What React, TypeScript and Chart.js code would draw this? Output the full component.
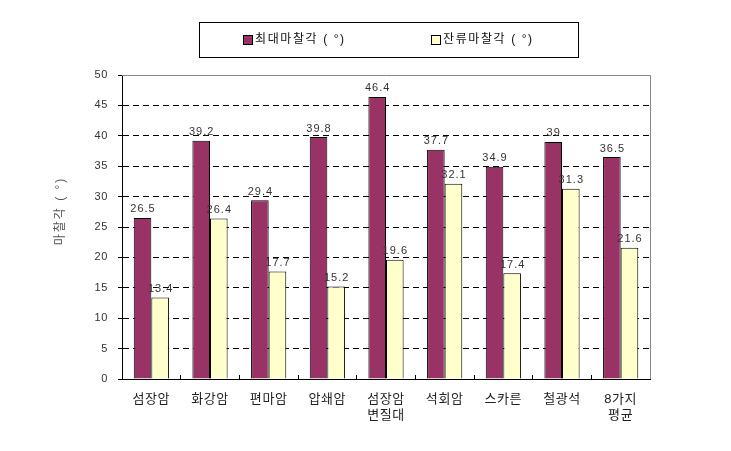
import React, { useEffect, useRef } from 'react';
import { Chart, registerables } from 'chart.js';

Chart.register(...registerables);

const categories: string[][] = [
  ['섬장암'], ['화강암'], ['편마암'], ['압쇄암'], ['섬장암', '변질대'],
  ['석회암'], ['스카른'], ['철광석'], ['8가지', '평균'],
];
const maxFriction = [26.5, 39.2, 29.4, 39.8, 46.4, 37.7, 34.9, 39, 36.5];
const residualFriction = [13.4, 26.4, 17.7, 15.2, 19.6, 32.1, 17.4, 31.3, 21.6];
const seriesNames = ['최대마찰각 ( °)', '잔류마찰각 ( °)'];
const seriesColors = ['#993366', '#FFFFCC'];
const yTitle = '마찰각 ( °)';
const yMin = 0;
const yMax = 50;
const yStep = 5;

const FONT = '"Liberation Sans", "Noto Sans CJK KR", sans-serif';

const decorPlugin = {
  id: 'decor',
  beforeDraw(chart: any) {
    (chart.ctx as any).letterSpacing = '0.6px';
  },
  afterDatasetsDraw(chart: any) {
    const ctx = chart.ctx;
    ctx.save();
    (ctx as any).letterSpacing = '1px';
    ctx.font = `11px ${FONT}`;
    ctx.fillStyle = '#333';
    ctx.textAlign = 'center';
    ctx.textBaseline = 'bottom';
    chart.data.datasets.forEach((ds: any, di: number) => {
      const meta = chart.getDatasetMeta(di);
      meta.data.forEach((el: any, i: number) => {
        ctx.fillText(String(ds.data[i]), el.x + 0.5, el.y - 3);
      });
    });
    ctx.restore();
  },
  afterDraw(chart: any) {
    const ctx = chart.ctx;
    const { left, right, top, bottom } = chart.chartArea;
    ctx.save();
    ctx.strokeStyle = '#888';
    ctx.lineWidth = 1;
    ctx.beginPath();
    ctx.moveTo(left, Math.round(top) + 0.5);
    ctx.lineTo(Math.round(right) + 0.5, Math.round(top) + 0.5);
    ctx.lineTo(Math.round(right) + 0.5, bottom);
    ctx.stroke();

    ctx.save();
    ctx.translate(61, 211);
    ctx.rotate(-Math.PI / 2);
    (ctx as any).letterSpacing = '2px';
    ctx.font = `12px ${FONT}`;
    ctx.fillStyle = '#555';
    ctx.textAlign = 'center';
    ctx.textBaseline = 'middle';
    ctx.fillText(yTitle, 0, 0);
    ctx.restore();

    ctx.strokeStyle = '#000';
    ctx.strokeRect(199.5, 22.5, 379, 35);
    const items = [243, 431];
    chart.data.datasets.forEach((ds: any, di: number) => {
      const x = items[di];
      ctx.fillStyle = ds.backgroundColor;
      ctx.fillRect(x, 35, 9, 9);
      ctx.strokeStyle = '#000';
      ctx.strokeRect(x + 0.5, 35.5, 9, 9);
      (ctx as any).letterSpacing = '1.6px';
      ctx.font = `12px ${FONT}`;
      ctx.fillStyle = '#111';
      ctx.textAlign = 'left';
      ctx.textBaseline = 'middle';
      ctx.fillText(ds.label, x + 12, 40);
    });
    ctx.restore();
  },
};

export default function App() {
  const ref = useRef<HTMLCanvasElement | null>(null);
  useEffect(() => {
    if (!ref.current) return;
    const chart = new Chart(ref.current, {
      type: 'bar',
      data: {
        labels: categories,
        datasets: [
          {
            label: seriesNames[0],
            data: maxFriction,
            backgroundColor: seriesColors[0],
            borderColor: '#000',
            borderWidth: 1,
          },
          {
            label: seriesNames[1],
            data: residualFriction,
            backgroundColor: seriesColors[1],
            borderColor: '#000',
            borderWidth: 1,
          },
        ],
      },
      options: {
        responsive: false,
        animation: false,
        devicePixelRatio: 1,
        layout: { padding: { top: 75, right: 81, left: 0, bottom: 0 } },
        datasets: { bar: { categoryPercentage: 0.6, barPercentage: 1 } },
        plugins: { legend: { display: false }, tooltip: { enabled: false } },
        scales: {
          x: {
            afterFit: (s: any) => { s.height = 72; },
            grid: {
              drawOnChartArea: false,
              drawTicks: true,
              tickLength: -4,
              color: '#000',
              offset: true,
            },
            border: { color: '#000', width: 1 },
            ticks: {
              padding: 16,
              color: '#222',
              font: { family: FONT, size: 13, lineHeight: 1.25 },
              maxRotation: 0,
              autoSkip: false,
            },
          },
          y: {
            min: yMin,
            max: yMax,
            afterFit: (s: any) => { s.width = 122; },
            ticks: {
              stepSize: yStep,
              padding: 10,
              color: '#333',
              font: { family: FONT, size: 11 },
            },
            grid: {
              color: (c: any) => (c.tick && (c.tick.value === yMin || c.tick.value === yMax) ? 'rgba(0,0,0,0)' : '#000'),
              tickColor: '#000',
              tickLength: 4,
              tickBorderDash: [],
            },
            border: { color: '#000', width: 1, dash: [6, 4] },
          },
        },
      },
      plugins: [decorPlugin],
    } as any);
    return () => chart.destroy();
  }, []);
  return (
    <div style={{ position: 'absolute', left: 0, top: 0 }}>
      <canvas ref={ref} width={731} height={451} />
    </div>
  );
}
